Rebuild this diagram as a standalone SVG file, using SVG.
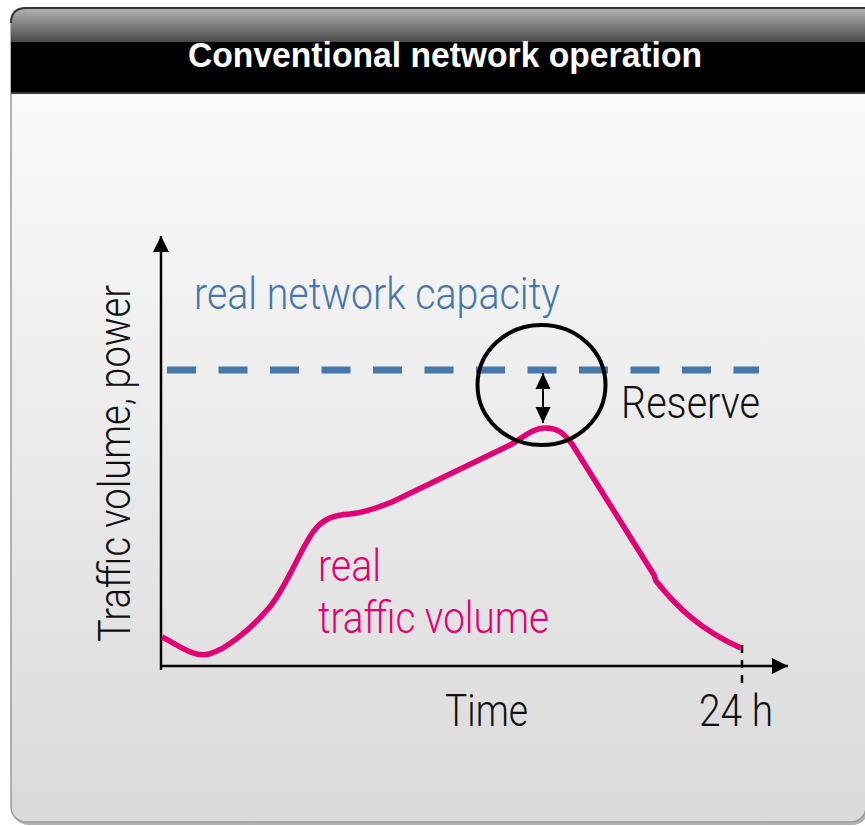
<svg xmlns="http://www.w3.org/2000/svg" width="865" height="826" viewBox="0 0 865 826">
  <defs>
    <linearGradient id="bodyFill" x1="0" y1="0" x2="0" y2="1">
      <stop offset="0" stop-color="#fefefe"/>
      <stop offset="0.45" stop-color="#eeeeee"/>
      <stop offset="1" stop-color="#dadada"/>
    </linearGradient>
    <linearGradient id="headFill" x1="0" y1="0" x2="0" y2="1">
      <stop offset="0" stop-color="#b4b4b4"/>
      <stop offset="1" stop-color="#4a4a4a"/>
    </linearGradient>
    <marker id="axisHead" viewBox="0 0 16 16" refX="16" refY="8" markerWidth="16" markerHeight="16" markerUnits="userSpaceOnUse" orient="auto">
      <path d="M0,0 L16,8 L0,16 Z" fill="#000"/>
    </marker>
    <marker id="reserveHead" viewBox="0 0 16 16" refX="16" refY="8" markerWidth="16" markerHeight="16" markerUnits="userSpaceOnUse" orient="auto">
      <path d="M0,0.5 L16,8 L0,15.5 Z" fill="#000"/>
    </marker>
  </defs>
  <style>
    .label { font-family: Roboto, "Liberation Sans", sans-serif; font-weight: 300; font-size: 45px; }
    .blue { fill: #4677aa; }
    .pink { fill: #e20074; }
    .dark { fill: #111111; }
    .title { font-family: "Liberation Sans", Arial, sans-serif; font-weight: bold; font-size: 35px; fill: #ffffff; }
  </style>

  <!-- panel frame -->
  <g id="panel">
    <rect x="13" y="11" width="855" height="814" rx="15" fill="#b3b3b3"/>
    <rect x="11" y="8" width="855" height="814" rx="15" fill="url(#bodyFill)" stroke="#9c9c9c" stroke-width="1.5"/>
    <path d="M11,42 L11,23 Q11,8 26,8 L866,8 L866,42 Z" fill="url(#headFill)"/>
    <path d="M11,23 Q11,8 26,8 L866,8" fill="none" stroke="#333" stroke-width="2"/>
    <rect x="11" y="42" width="855" height="50" fill="#000"/>
    <rect x="11" y="92" width="855" height="2" fill="#3a3a3a"/>
    <text class="title" x="188" y="67" textLength="514" lengthAdjust="spacingAndGlyphs">Conventional network operation</text>
  </g>

  <!-- chart axes and curves -->
  <g id="connectors">
    <line x1="161" y1="670" x2="161" y2="236" stroke="#000" stroke-width="2.5" marker-end="url(#axisHead)"/>
    <line x1="160" y1="666" x2="788" y2="666" stroke="#000" stroke-width="2.5" marker-end="url(#axisHead)"/>
    <line x1="742" y1="645" x2="742" y2="690" stroke="#000" stroke-width="2.5" stroke-dasharray="8,7"/>
    <line x1="167" y1="370" x2="759" y2="370" stroke="#4677aa" stroke-width="7" stroke-dasharray="29,22.5"/>
    <path d="M162,637 C178,645 194,658 209,654 C225,650 250,630 268,609 C285,590 300,550 313,532 C323,518 335,515 350,514 C362,513 372,510 392,502 L508,446 C522,439 532,428 545,428 C557,428 563,432 572,444 L654,575 L656,581 C676,606 700,630 741,648" fill="none" stroke="#e20074" stroke-width="5.5" stroke-linejoin="round" stroke-linecap="butt"/>
  </g>

  <g id="capacity">
    <text class="label blue" x="194" y="309" textLength="366" lengthAdjust="spacingAndGlyphs">real network capacity</text>
  </g>

  <g id="reserve">
    <ellipse cx="541.5" cy="385" rx="64" ry="60" fill="none" stroke="#000" stroke-width="4"/>
    <line x1="543" y1="398" x2="543" y2="373" stroke="#000" stroke-width="2" marker-end="url(#reserveHead)"/>
    <line x1="543" y1="398" x2="543" y2="423" stroke="#000" stroke-width="2" marker-end="url(#reserveHead)"/>
    <text class="label dark" x="621" y="418" textLength="139" lengthAdjust="spacingAndGlyphs">Reserve</text>
  </g>

  <g id="traffic">
    <text class="label pink" x="318" y="581" textLength="63" lengthAdjust="spacingAndGlyphs">real</text>
    <text class="label pink" x="318" y="633" textLength="231" lengthAdjust="spacingAndGlyphs">traffic volume</text>
  </g>

  <g id="axis-labels">
    <text class="label dark" transform="translate(130,642) rotate(-90)" x="0" y="0" textLength="357" lengthAdjust="spacingAndGlyphs">Traffic volume, power</text>
    <text class="label dark" x="445" y="726" textLength="83" lengthAdjust="spacingAndGlyphs">Time</text>
    <text class="label dark" x="699" y="726" textLength="74" lengthAdjust="spacingAndGlyphs">24 h</text>
  </g>
</svg>
